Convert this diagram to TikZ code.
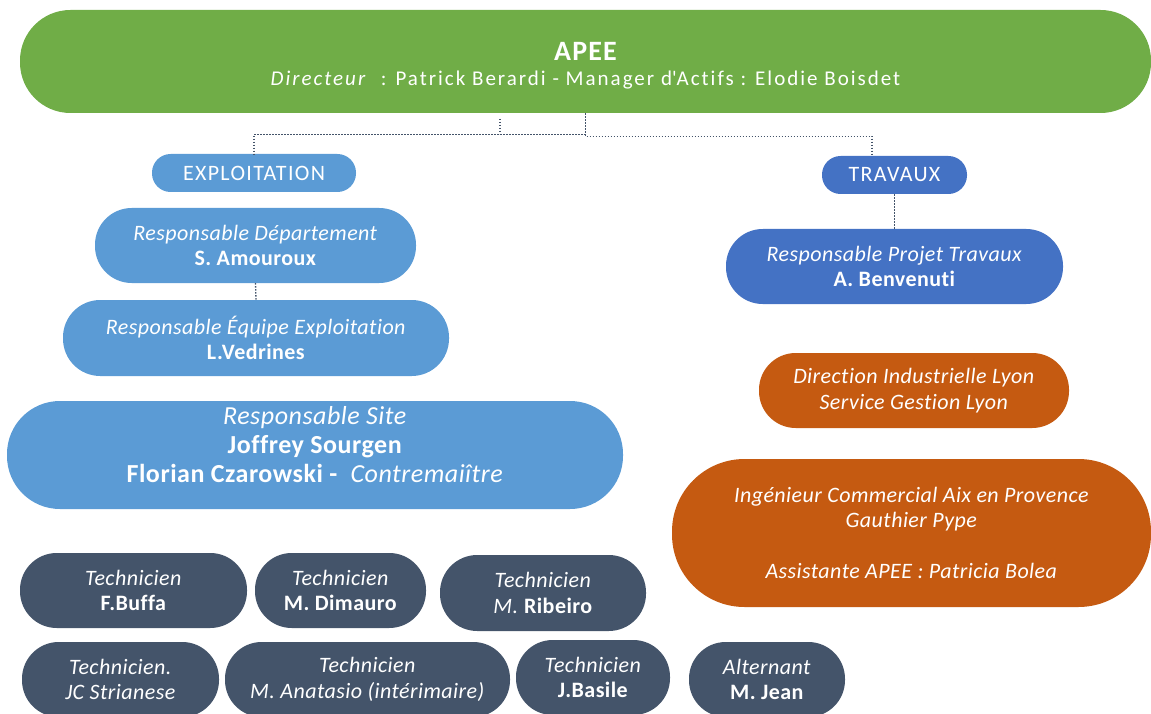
\documentclass[tikz,border=0pt]{standalone}
\usepackage{fontspec}
\setmainfont{Carlito}[Ligatures=NoCommon, LetterSpace=2]
\newfontfamily\spacedfont{Carlito}[Ligatures=NoCommon, LetterSpace=6]
\newfontfamily\widefont{Carlito}[Ligatures=NoCommon, LetterSpace=9.5]
\definecolor{greenish}{RGB}{112,173,71}
\definecolor{skyish}{RGB}{91,155,213}
\definecolor{blueish}{RGB}{68,114,196}
\definecolor{orangeish}{RGB}{197,90,17}
\definecolor{slateish}{RGB}{68,84,106}

\begin{document}
\begin{tikzpicture}[
  x=1pt,
  y=-1pt,
  pill/.style 2 args={
    rectangle,
    draw=none,
    text=white,
    inner sep=0pt,
    align=center,
    minimum width=#1,
    minimum height=#2,
    rounded corners=0.49*#2,
    font=\fontsize{22}{25.5}\selectfont
  },
  head/.style={fill=greenish},
  exploit/.style={fill=skyish},
  works/.style={fill=blueish},
  lyon/.style={fill=orangeish},
  tech/.style={fill=slateish},
  link/.style={
    draw=slateish,
    line width=1.3pt,
    dash pattern=on 1.4pt off 1.6pt
  }
]
\useasboundingbox (0,0) rectangle (1151,714);

% Direction
\node[pill={1131pt}{103pt}, head, font=\widefont\fontsize{21}{24.3}\selectfont,
      text height=51pt] (apee) at (585.5,61.5)
  {{\fontsize{28}{30}\selectfont\bfseries\addfontfeature{LetterSpace=4}APEE}\\
   \textit{Directeur}~ : Patrick Berardi - Manager d\textquotesingle Actifs : Elodie Boisdet};

% Branches
\node[pill={204pt}{38pt}, exploit, font=\spacedfont\fontsize{22}{25.5}\selectfont] (expl) at (254,173) {EXPLOITATION};
\node[pill={145pt}{38pt}, works, font=\spacedfont\fontsize{22}{25.5}\selectfont] (trav) at (894.5,175) {TRAVAUX};

% Exploitation column
\node[pill={321pt}{75pt}, exploit] (resdep) at (255.5,245.5)
  {\textit{Responsable Département}\\ \textbf{S. Amouroux}};
\node[pill={386pt}{76pt}, exploit] (resequ) at (256,338)
  {\textit{Responsable Équipe Exploitation}\\ \textbf{L.Vedrines}};
\node[pill={616pt}{108pt}, exploit, font=\fontsize{26}{29}\selectfont,
      text depth=22pt] (ressite) at (315,455)
  {\textit{Responsable Site}\\ \textbf{Joffrey Sourgen}\\
   \textbf{Florian Czarowski -}~ \textit{Contremaiître}};

% Travaux column
\node[pill={337pt}{75pt}, works] (resproj) at (894.5,266.5)
  {\textit{Responsable Projet Travaux}\\ \textbf{A. Benvenuti}};
\node[pill={310pt}{75pt}, lyon] (dirind) at (914,390.5)
  {\textit{Direction Industrielle Lyon}\\ \textit{Service Gestion Lyon}};
\node[pill={479pt}{148pt}, lyon] (ingcom) at (911.5,533)
  {\textit{Ingénieur Commercial Aix en Provence}\\ \textit{Gauthier Pype}\\[25.5pt]
   \textit{Assistante APEE : Patricia Bolea}};

% Techniciens
\node[pill={227pt}{75pt}, tech] (buffa) at (133.5,590.5)
  {\textit{Technicien}\\ \textbf{F.Buffa}};
\node[pill={171pt}{75pt}, tech] (dimauro) at (340.5,590.5)
  {\textit{Technicien}\\ \textbf{M. Dimauro}};
\node[pill={206pt}{76pt}, tech] (ribeiro) at (543,593)
  {\textit{Technicien}\\ \textit{M.} \textbf{Ribeiro}};
\node[pill={197pt}{75pt}, tech] (strianese) at (120.5,679.5)
  {\textit{Technicien.}\\ \textit{JC Strianese}};
\node[pill={285pt}{75pt}, tech] (anatasio) at (367.5,679.5)
  {\textit{Technicien}\\ \textit{M. Anatasio (intérimaire)}};
\node[pill={154pt}{75pt}, tech] (basile) at (593,677.5)
  {\textit{Technicien}\\ \textbf{J.Basile}};
\node[pill={156pt}{75pt}, tech] (jean) at (767,679.5)
  {\textit{Alternant}\\ \textbf{M. Jean}};

% Links
\coordinate (stub) at (500,119);
\draw[link] (stub) -- ++(0,15);
\draw[link] (apee.south) -- ++(0,21) -| (expl.north);
\draw[link] (apee.south) -- ++(0,23) -| ([xshift=-22.5pt]trav.north);
\draw[link] (trav.south) -- (resproj.north);
\draw[link] (resdep.south) -- (resequ.north);

\end{tikzpicture}
\end{document}
